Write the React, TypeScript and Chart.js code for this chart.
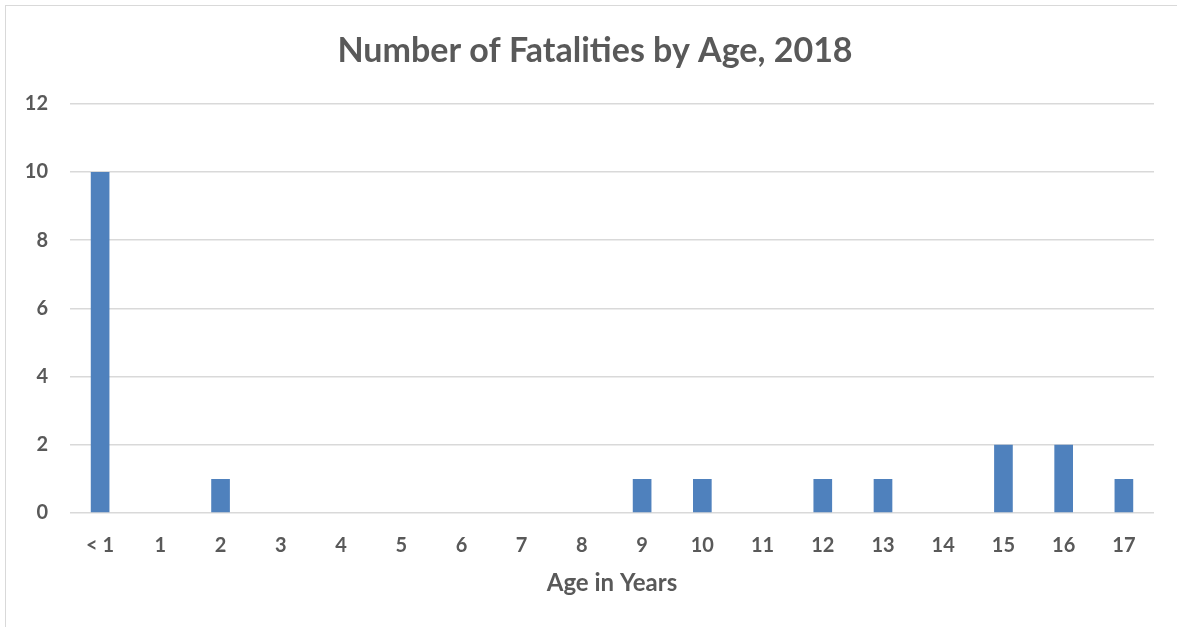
import React, { useEffect, useRef } from "react";
import { Chart, registerables } from "chart.js";

Chart.register(...registerables);

const categories = ["< 1", "1", "2", "3", "4", "5", "6", "7", "8", "9", "10", "11", "12", "13", "14", "15", "16", "17"];
const fatalities = [10, 0, 1, 0, 0, 0, 0, 0, 0, 1, 1, 0, 1, 1, 0, 2, 2, 1];
const titleText = "Number of Fatalities by Age, 2018";
const xAxisTitle = "Age in Years";

const FONT = "Lato, 'Open Sans', sans-serif";
const GRAY = "#595959";

export default function App() {
  const ref = useRef<HTMLCanvasElement | null>(null);

  useEffect(() => {
    if (!ref.current) return;
    const chart = new Chart(ref.current, {
      type: "bar",
      data: {
        labels: categories,
        datasets: [
          {
            data: fatalities,
            backgroundColor: "#4f81bd",
            barPercentage: 0.31,
            categoryPercentage: 1,
            yAxisID: "y",
          },
        ],
      },
      options: {
        animation: false,
        responsive: false,
        maintainAspectRatio: false,
        layout: { padding: { left: 0, right: 0, top: 0, bottom: 0 } },
        plugins: {
          legend: { display: false },
          tooltip: { enabled: false },
          title: {
            display: true,
            text: titleText,
            color: GRAY,
            font: { family: FONT, size: 34, weight: "bold" },
            padding: { top: 31, bottom: 32 },
          },
        },
        scales: {
          x: {
            grid: { display: false, drawTicks: false },
            border: { display: false },
            ticks: {
              color: GRAY,
              font: { family: FONT, size: 20, weight: "bold" },
              padding: 21,
              maxRotation: 0,
              autoSkip: false,
            },
            title: {
              display: true,
              text: xAxisTitle,
              color: GRAY,
              font: { family: FONT, size: 24, weight: "bold" },
              padding: { top: 0, bottom: 29 },
            },
            afterFit: (scale: any) => {
              scale.height = 114;
            },
          },
          y: {
            min: 0,
            max: 12,
            ticks: {
              stepSize: 2,
              color: GRAY,
              font: { family: FONT, size: 20, weight: "bold" },
              padding: 22,
            },
            grid: { color: "#d9d9d9", lineWidth: 1.5, drawTicks: false },
            border: { display: false },
            afterFit: (scale: any) => {
              scale.width = 70;
            },
          },
          spacer: {
            type: "linear",
            position: "right",
            display: true,
            ticks: { display: false },
            grid: { display: false, drawTicks: false },
            border: { display: false },
            afterFit: (scale: any) => {
              scale.width = 36;
            },
          },
        },
      },
    });
    return () => chart.destroy();
  }, []);

  return (
    <div
      style={{
        position: "fixed",
        left: 0,
        top: 0,
        width: 1177,
        height: 627,
        overflow: "hidden",
        background: "#ffffff",
      }}
    >
      <div
        style={{
          position: "absolute",
          left: 5,
          top: 5,
          width: 1200,
          height: 700,
          border: "1.5px solid #d9d9d9",
          boxSizing: "border-box",
        }}
      />
      <canvas
        ref={ref}
        width={1190}
        height={627}
        style={{ position: "absolute", left: 0, top: 0, width: 1190, height: 627 }}
      />
    </div>
  );
}
